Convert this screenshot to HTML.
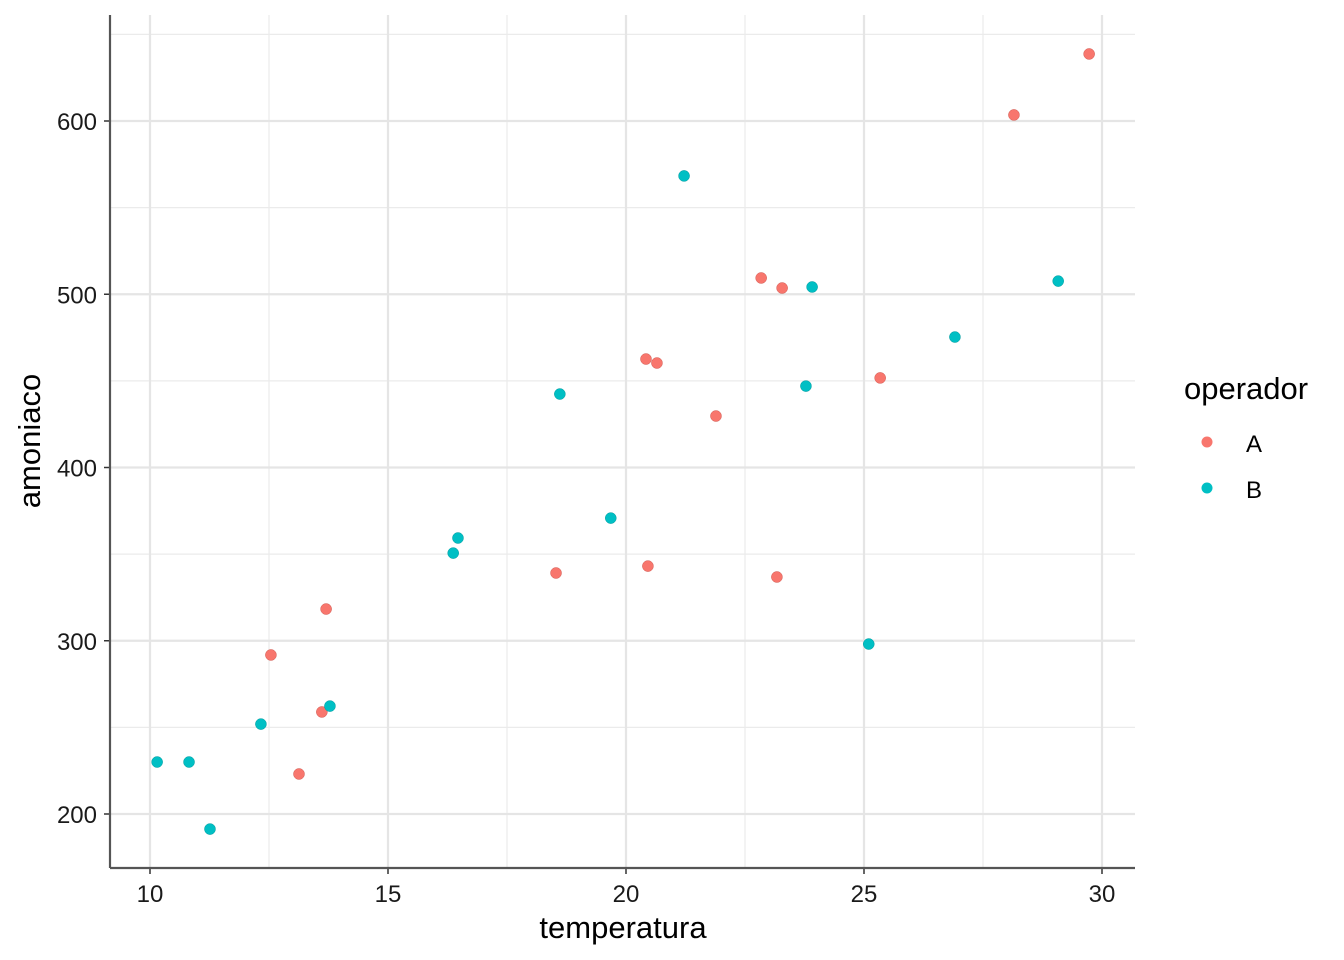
<!DOCTYPE html>
<html><head><meta charset="utf-8">
<style>
html,body{margin:0;padding:0;background:#fff;}
svg{display:block;font-family:"Liberation Sans",Arial,sans-serif;}
</style></head>
<body>
<svg id="chart" width="1344" height="960">
<g id="grid"></g>
<g id="points"></g>
<g id="axes"></g>
<text x="623" y="938" text-anchor="middle" font-size="31" fill="#000">temperatura</text>
<text transform="translate(40,441) rotate(-90)" text-anchor="middle" font-size="31" fill="#000">amoniaco</text>
<g>
<text x="1184" y="399" font-size="31" fill="#000">operador</text>
<g><circle cx="1207" cy="442" r="5.5" fill="#F8766D"/><text x="1246" y="452" font-size="24" fill="#000">A</text></g>
<g><circle cx="1207" cy="488" r="5.5" fill="#00BFC4"/><text x="1246" y="498" font-size="24" fill="#000">B</text></g>
</g>
</svg>
<script>
const xTicks=[10,15,20,25,30];
const yTicks=[200,300,400,500,600];
const aTemp=[29.73,28.15,22.84,23.28,20.42,20.65,21.89,25.34,18.53,20.46,23.17,13.70,12.54,13.61,13.13];
const aAmon=[638.7,603.5,509.4,503.6,462.6,460.3,429.7,451.7,339.1,343.1,336.8,318.3,291.8,258.9,223.1];
const bTemp=[21.22,23.91,29.08,26.91,23.78,18.61,19.68,16.47,16.37,25.10,13.78,12.33,10.15,10.82,11.26];
const bAmon=[568.3,504.2,507.6,475.3,447.0,442.4,370.8,359.3,350.6,298.1,262.3,251.9,230.0,230.0,191.3];

const L=110,R=1135,T=15,B=868;
const sx=v=>150+(v-10)*47.6;
const sy=v=>814-(v-200)*1.7325;
const NS="http://www.w3.org/2000/svg";
function mk(tag,attrs,parent){const e=document.createElementNS(NS,tag);for(const k in attrs)e.setAttribute(k,attrs[k]);parent.appendChild(e);return e;}
const grid=document.getElementById('grid'),axes=document.getElementById('axes'),pts=document.getElementById('points');
for(let i=0;i<xTicks.length-1;i++){const m=(xTicks[i]+xTicks[i+1])/2;const l=mk('line',{x1:sx(m),x2:sx(m),y1:T,y2:B,stroke:'#ebebeb','stroke-width':1.2},grid);

}
for(let i=0;i<=yTicks.length;i++){const m=yTicks[0]-50+i*100;const y=sy(m);if(y<T||y>B)continue;const l=mk('line',{x1:L,x2:R,y1:y,y2:y,stroke:'#ebebeb','stroke-width':1.2},grid);

}
xTicks.forEach(v=>{const l=mk('line',{x1:sx(v),x2:sx(v),y1:T,y2:B,stroke:'#e5e5e5','stroke-width':2.2},grid);


mk('line',{x1:sx(v),x2:sx(v),y1:B,y2:B+6,stroke:'#333','stroke-width':1.5},axes);
const t=mk('text',{x:sx(v),y:B+34,'text-anchor':'middle','font-size':24,fill:'#1a1a1a'},axes);t.textContent=v;

});
yTicks.forEach(v=>{const l=mk('line',{x1:L,x2:R,y1:sy(v),y2:sy(v),stroke:'#e5e5e5','stroke-width':2.2},grid);


mk('line',{x1:L-6,x2:L,y1:sy(v),y2:sy(v),stroke:'#333','stroke-width':1.5},axes);
const t=mk('text',{x:L-13,y:sy(v)+9,'text-anchor':'end','font-size':24,fill:'#1a1a1a'},axes);t.textContent=v;

});
const xa=mk('line',{x1:L,x2:R,y1:B,y2:B,stroke:'#555','stroke-width':2.2},axes);


const ya=mk('line',{x1:L,x2:L,y1:T,y2:B,stroke:'#555','stroke-width':2.2},axes);


aTemp.forEach((t,i)=>{const c=mk('circle',{cx:sx(t),cy:sy(aAmon[i]),r:5.5,fill:'#F8766D',stroke:'#d05a52','stroke-width':0.5},pts);

});
bTemp.forEach((t,i)=>{const c=mk('circle',{cx:sx(t),cy:sy(bAmon[i]),r:5.5,fill:'#00BFC4',stroke:'#009a9e','stroke-width':0.5},pts);

});
</script>
</body></html>
